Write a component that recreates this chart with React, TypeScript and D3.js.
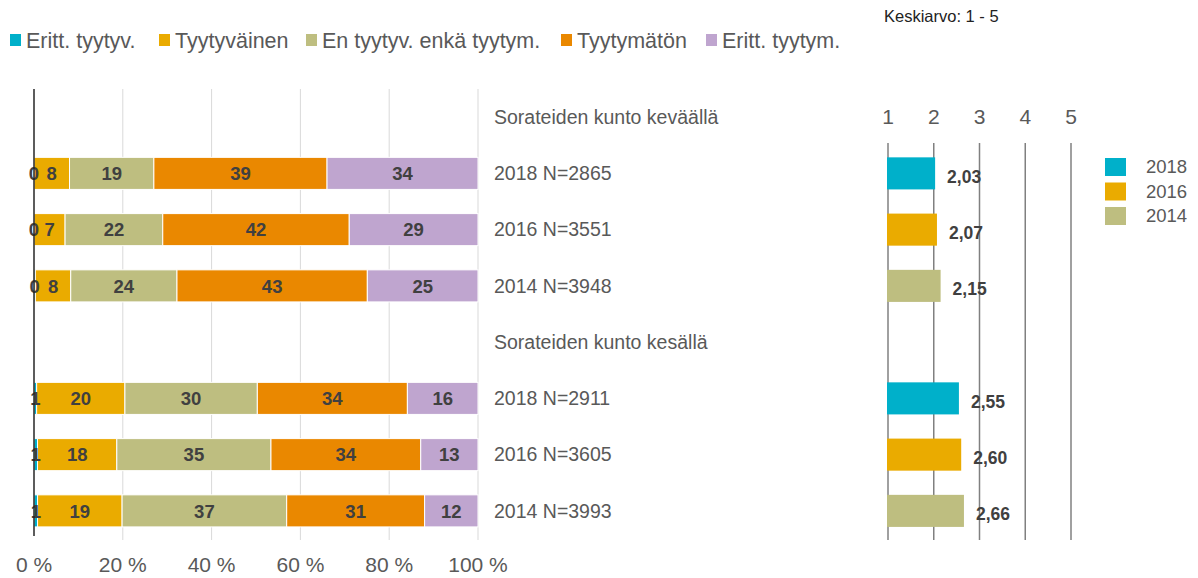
import * as d3 from "d3";

const categories = ["Eritt. tyytyv.", "Tyytyväinen", "En tyytyv. enkä tyytym.", "Tyytymätön", "Eritt. tyytym."];
const colors = ["#00b0ca", "#eaab00", "#bebe80", "#ea8800", "#bfa5cf"];

const groups = ["Sorateiden kunto keväällä", "Sorateiden kunto kesällä"];
const rowLabels = [
  ["2018 N=2865", "2016 N=3551", "2014 N=3948"],
  ["2018 N=2911", "2016 N=3605", "2014 N=3993"],
];
const years = ["2018", "2016", "2014"];
const yearColors = ["#00b0ca", "#eaab00", "#bebe80"];

// shares per row, in category order
const springValues = [
  [0, 8, 19, 39, 34],
  [0, 7, 22, 42, 29],
  [0.3, 8, 24, 43, 25],
];
const summerValues = [
  [0.6, 20, 30, 34, 16],
  [0.8, 18, 35, 34, 13],
  [0.8, 19, 37, 31, 12],
];
const springMeans = [2.03, 2.07, 2.15];
const summerMeans = [2.55, 2.6, 2.66];

const xTicks = [0, 20, 40, 60, 80, 100];
const meanTicks = [1, 2, 3, 4, 5];

const W = 1198;
const H = 578;
const font = "Liberation Sans, Arial, sans-serif";
const labelColor = "#595959";
const valueColor = "#404040";

export default function App() {
  const slots = d3.range(8).map(String);
  const y = d3.scaleBand<string>().domain(slots).range([89, 539]).paddingInner(0.43).paddingOuter(0.215);
  const x = d3.scaleLinear().domain([0, 100]).range([34, 478]);
  const m = d3.scaleLinear().domain([1, 5]).range([888, 1071]);

  const rows: { slot: string; values: number[]; label: string; mean: number; yi: number }[] = [];
  groups.forEach((g, gi) => {
    const vals = gi === 0 ? springValues : summerValues;
    const means = gi === 0 ? springMeans : summerMeans;
    vals.forEach((v, i) => {
      rows.push({ slot: String(gi * 4 + 1 + i), values: v, label: rowLabels[gi][i], mean: means[i], yi: i });
    });
  });

  const bh = y.bandwidth();

  // legend layout
  const legendX = [10, 159, 306, 561, 706];

  return (
    <svg width={W} height={H} style={{ position: "absolute", left: 0, top: 0, background: "#fff" }} fontFamily={font}>
      {/* top legend */}
      {categories.map((c, i) => (
        <g key={c} transform={`translate(${legendX[i]},0)`}>
          <rect x={0} y={34} width={11} height={12} fill={colors[i]} />
          <text x={16} y={48} fontSize={21.5} fill={labelColor}>{c}</text>
        </g>
      ))}
      <text x={884} y={22} fontSize={16.5} fill="#222">Keskiarvo: 1 - 5</text>

      {/* gridlines */}
      {xTicks.slice(1).map((t) => (
        <line key={t} x1={x(t)} x2={x(t)} y1={89} y2={540} stroke="#d9d9d9" strokeWidth={1} />
      ))}
      {xTicks.map((t) => (
        <text key={t} x={x(t)} y={572} fontSize={21} fill={labelColor} textAnchor="middle">{t} %</text>
      ))}

      {/* group headers */}
      {groups.map((g, gi) => (
        <text key={g} x={494} y={(y(String(gi * 4)) ?? 0) + bh / 2} dy="0.35em" fontSize={19.5} fill={labelColor}>{g}</text>
      ))}

      {/* stacked bars */}
      {rows.map((r) => {
        const total = d3.sum(r.values);
        const cum = [0, ...d3.cumsum(r.values)].map((v) => (v / total) * 100);
        const yy = y(r.slot) ?? 0;
        return (
          <g key={r.slot}>
            {r.values.map((v, i) => (
              <rect key={i} x={x(cum[i])} y={yy} width={x(cum[i + 1]) - x(cum[i])} height={bh} fill={colors[i]} stroke="#fff" strokeWidth={v > 0 ? 1 : 0} />
            ))}
            {r.values.map((v, i) => (
              <text key={"t" + i} x={(x(cum[i]) + x(cum[i + 1])) / 2} y={yy + bh / 2} dy="0.36em" textAnchor="middle" fontSize={18.5} fontWeight="bold" fill={valueColor}>
                {Math.round(v)}
              </text>
            ))}
            <text x={494} y={yy + bh / 2} dy="0.35em" fontSize={19.5} fill={labelColor}>{r.label}</text>
          </g>
        );
      })}
      <line x1={x(0)} x2={x(0)} y1={89} y2={536} stroke="#262626" strokeWidth={1.5} />

      {/* mean panel */}
      {meanTicks.map((t) => (
        <g key={t}>
          <text x={m(t)} y={117} dy="0.35em" textAnchor="middle" fontSize={21} fill={labelColor}>{t}</text>
          <line x1={m(t)} x2={m(t)} y1={143} y2={540} stroke="#808080" strokeWidth={1.5} />
        </g>
      ))}
      {rows.map((r) => {
        const yy = y(r.slot) ?? 0;
        return (
          <g key={"m" + r.slot}>
            <rect x={m(1) - 1} y={yy} width={m(r.mean) - m(1) + 1} height={bh} fill={yearColors[r.yi]} />
            <text x={m(r.mean) + 12} y={yy + bh / 2 + 3} dy="0.35em" fontSize={17.5} fontWeight="bold" fill={valueColor}>
              {r.mean.toFixed(2).replace(".", ",")}
            </text>
          </g>
        );
      })}
      {years.map((yr, i) => (
        <g key={yr}>
          <rect x={1105} y={158 + i * 24.5} width={21} height={18} fill={yearColors[i]} />
          <text x={1146} y={167 + i * 24.5} dy="0.35em" fontSize={18.5} fill={labelColor}>{yr}</text>
        </g>
      ))}
    </svg>
  );
}
